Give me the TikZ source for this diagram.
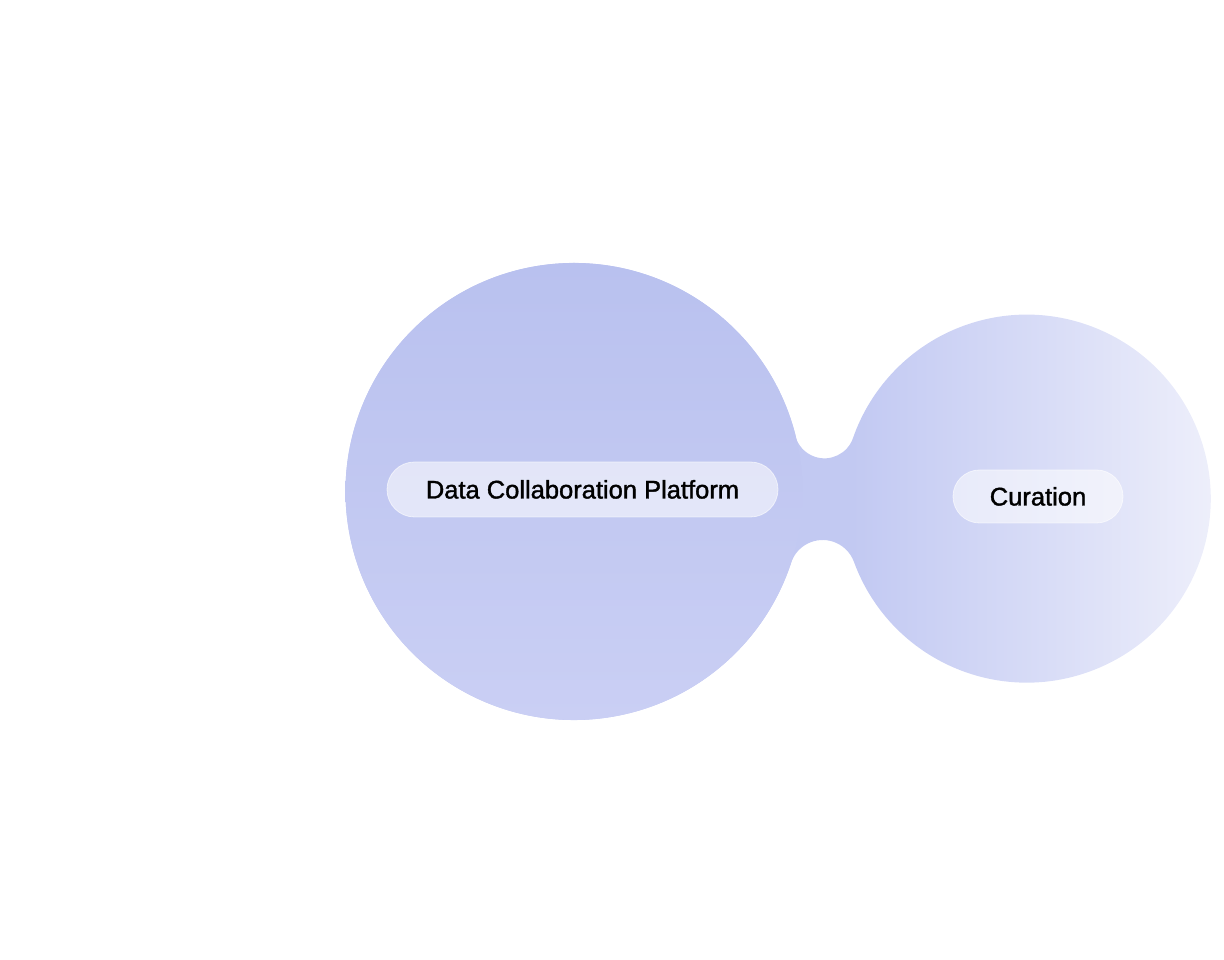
\documentclass[tikz,border=0pt]{standalone}
\usepackage{fontspec}
\setmainfont{Liberation Sans}
\newfontfamily\labelfont{Liberation Sans}[FakeBold=1.4]
\usetikzlibrary{calc}
\definecolor{bigcol}{HTML}{BFC6F1}
\definecolor{bridgecol}{HTML}{C2C9F2}
\definecolor{midcol}{HTML}{D9DDF7}
\definecolor{lightcol}{HTML}{F0F1FB}
\definecolor{bigtop}{HTML}{B9C1EF}
\definecolor{bigmid}{HTML}{C1C8F1}
\definecolor{bigbot}{HTML}{CACFF4}
\pgfdeclarehorizontalshading{unionfade}{100bp}{color(0bp)=(bigcol); color(25bp)=(bigcol); color(54bp)=(bridgecol); color(65bp)=(midcol); color(75bp)=(lightcol); color(100bp)=(lightcol)}
\tikzset{
  pill/.style={fill=white, fill opacity=0.55, draw=white, draw opacity=0.6, line width=0.8pt, text opacity=1, text=black, inner sep=0pt, font=\labelfont\fontsize{25.5}{30}\selectfont, text height=18pt, text depth=0pt}
}
\begin{document}
\begin{tikzpicture}[x=1pt,y=1pt]
\useasboundingbox (0,0) rectangle (1224,960);
\coordinate (C1) at (574,468.5);
\coordinate (C2) at (1027,461.5);
% united shape of the two circles and the bridge
\shade[shading=unionfade]
  ($(C1)+(14.21:228.5)$) arc[start angle=14.21, end angle=341.79, radius=228.5]
  arc[start angle=161.79, end angle=20.10, radius=33.3]
  arc[start angle=200.10, end angle=520.79, radius=184]
  arc[start angle=-19.21, end angle=-165.79, radius=30.2] -- cycle;
% slight vertical lightening of the large circle
\shade[top color=bigtop, middle color=bigmid, bottom color=bigbot] (C1) circle[radius=228.5];
% labels
\node[pill, rounded corners=27.5pt, minimum width=391pt, minimum height=55pt] (dcp) at (582.5,470.5) {Data Collaboration Platform};
\node[pill, rounded corners=26.5pt, minimum width=170pt, minimum height=53pt] (cur) at (1038,463.5) {Curation};
\end{tikzpicture}
\end{document}
